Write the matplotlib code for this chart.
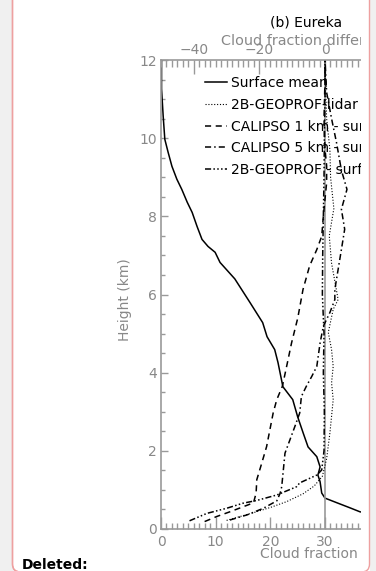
import matplotlib
matplotlib.use("Agg")
import matplotlib.pyplot as plt
from matplotlib.patches import FancyBboxPatch, Rectangle
from matplotlib.ticker import MultipleLocator

# surface mean cloud fraction profile (bottom axis, %)
mean_height = [12.0, 11.26, 10.56, 9.97, 9.64, 9.28, 8.95, 8.69, 8.36, 8.10, 7.74, 7.41,
               7.23, 7.08, 6.82, 6.40, 5.79, 5.28, 4.92, 4.59, 4.26, 3.64, 3.31, 2.87,
               2.46, 2.10, 1.85, 1.59, 1.38, 1.21, 0.92, 0.79, 0.67, 0.54, 0.44, 0.35, 0.25]
mean_frac = [0.1, 0.1, 0.4, 0.7, 1.3, 2.0, 2.9, 3.8, 4.8, 5.7, 6.6, 7.5,
             8.6, 9.9, 10.8, 13.5, 16.3, 18.6, 19.4, 20.8, 21.4, 22.3, 24.1, 25.0,
             26.0, 26.9, 28.5, 29.1, 28.7, 29.1, 29.4, 30.0, 32.2, 34.6, 36.4, 40.0, 45.0]

# differences from the surface (top axis, %)
lidar_height = [0.22, 0.30, 0.42, 0.55, 0.70, 0.90, 1.10, 1.35, 1.80, 2.46, 3.31, 3.74, 4.16,
                4.59, 5.03, 5.62, 5.87, 6.2, 6.8, 7.5, 8.2, 9.0, 9.7, 10.5, 11.2, 12.0]
lidar_diff = [-30.0, -26.7, -21.7, -16.7, -11.7, -6.7, -3.3, -0.8, 0.5, 1.5, 2.5, 2.0, 2.5,
              2.0, 1.0, 2.5, 4.0, 3.3, 2.0, 1.3, 2.7, 1.7, 1.5, 0.5, 0.2, 0.0]

cal1_height = [0.19, 0.32, 0.44, 0.67, 0.92, 1.26, 1.68, 2.11, 2.54, 2.97, 3.31, 3.65, 4.16,
               4.76, 5.40, 6.13, 6.73, 7.15, 7.49, 8.01, 8.44, 8.86, 9.29, 9.72, 10.5, 11.5, 12.0]
cal1_diff = [-36.7, -33.0, -29.0, -21.8, -21.0, -20.8, -19.3, -17.8, -16.8, -15.8, -14.7, -13.0, -11.7,
             -10.2, -8.3, -6.7, -4.7, -2.5, -1.0, -0.5, 0.0, 0.5, 0.5, 0.0, -0.3, 0.0, 0.0]

cal5_height = [0.23, 0.36, 0.53, 0.72, 0.91, 1.08, 1.51, 1.94, 2.28, 2.62, 2.97, 3.39, 3.65,
               3.91, 4.16, 4.76, 5.19, 5.54, 5.87, 6.13, 6.64, 7.15, 7.67, 8.18, 8.69, 9.18,
               9.89, 10.5, 11.17, 12.0]
cal5_diff = [-29.0, -23.8, -18.8, -14.7, -13.7, -13.2, -12.7, -12.2, -10.7, -9.2, -7.7, -7.2, -5.7,
             -4.0, -2.5, -1.5, -0.5, 1.5, 3.0, 3.0, 4.0, 5.0, 6.0, 5.0, 6.7, 5.0,
             3.5, 2.0, 0.5, 0.0]

geo_height = [0.21, 0.40, 0.53, 0.66, 0.73, 0.87, 1.08, 1.18, 1.38, 1.51, 2.0, 3.0, 4.0,
              5.0, 6.0, 7.0, 8.0, 9.0, 10.0, 11.0, 12.0]
geo_diff = [-41.3, -36.0, -30.0, -25.0, -20.8, -14.7, -8.7, -7.7, -2.5, -1.0, -0.3, -0.2, -0.5,
            -0.3, -0.8, -0.7, -0.5, -0.3, -0.2, 0.0, 0.0]

labels = ["Surface mean", "2B-GEOPROF-lidar - surface", "CALIPSO 1 km - surface",
          "CALIPSO 5 km - surface", "2B-GEOPROF - surface"]

W, H = 376, 571
GREY = "#999999"
TXT = "#888888"

fig = plt.figure(figsize=(W / 100, H / 100), dpi=100)
fig.patch.set_facecolor("#f0f0f0")

# white page with pink change-bar frame
frame = FancyBboxPatch((0.125, -0.01), 3.57, 6.0, boxstyle="round,pad=0,rounding_size=0.08",
                       transform=fig.dpi_scale_trans, facecolor="white",
                       edgecolor="#eea0a0", lw=1.0, zorder=-1)
fig.add_artist(frame)

ax = fig.add_axes([161 / W, 1 - 529 / H, 328 / W, 469 / H])
ax.set_facecolor("none")
ax.set_xlim(0, 60)
ax.set_ylim(0, 12)
ax2 = ax.twiny()
ax2.set_facecolor("none")
ax2.set_xlim(-50, 50)

l0, = ax.plot(mean_frac, mean_height, color="black", lw=1.1)
ax2.axvline(0, color=GREY, lw=1.2)
l1, = ax2.plot(lidar_diff, lidar_height, color="black", lw=0.8, ls=(0, (1, 1.6)))
l2, = ax2.plot(cal1_diff, cal1_height, color="black", lw=1.1, ls=(0, (4, 3)))
l3, = ax2.plot(cal5_diff, cal5_height, color="black", lw=1.1, ls=(0, (4, 2, 1, 2)))
l4, = ax2.plot(geo_diff, geo_height, color="black", lw=1.1,
               ls=(0, (4, 1.5, 1, 1.5, 1, 1.5, 1, 1.5)))

for s in ax.spines.values():
    s.set_color(GREY)
    s.set_linewidth(1.2)
ax.spines["top"].set_visible(False)
for k, s in ax2.spines.items():
    s.set_visible(k == "top")
    s.set_color(GREY)
    s.set_linewidth(1.2)

ax.xaxis.set_ticks_position("bottom")
ax.yaxis.set_ticks_position("left")
ax.xaxis.set_major_locator(MultipleLocator(10))
ax.xaxis.set_minor_locator(MultipleLocator(1))
ax.yaxis.set_major_locator(MultipleLocator(2))
ax.yaxis.set_minor_locator(MultipleLocator(0.5))
ax.tick_params(which="both", direction="in", color=GREY, labelcolor=TXT, labelsize=10, width=1)
ax.tick_params(axis="x", which="major", length=9, pad=4)
ax.tick_params(axis="x", which="minor", length=4)
ax.tick_params(axis="y", which="major", length=5, pad=3)
ax.tick_params(axis="y", which="minor", length=3)

ax2.xaxis.set_major_locator(MultipleLocator(20))
ax2.xaxis.set_minor_locator(MultipleLocator(5 / 3))
ax2.tick_params(which="both", direction="in", color=GREY, labelcolor=TXT, labelsize=10, width=1)
ax2.tick_params(which="major", length=10, pad=2)
ax2.tick_params(which="minor", length=5)

ax2.legend([l0, l1, l2, l3, l4], labels, loc="upper left",
           bbox_to_anchor=(205 / W, 1 - 76 / H), bbox_transform=fig.transFigure,
           frameon=False, fontsize=10, handlelength=1.6, handletextpad=0.25,
           labelspacing=0.56, borderpad=0, borderaxespad=0)

fig.text(270 / W, 1 - 23 / H, "(b) Eureka", fontsize=10, color="black", va="center")
fig.text(221 / W, 1 - 41 / H, "Cloud fraction difference", fontsize=10.4, color=TXT, va="center")
fig.text(260 / W, 1 - 554 / H, "Cloud fraction", fontsize=10, color=TXT, va="center")
fig.text(125 / W, 1 - 300 / H, "Height (km)", fontsize=10, color=TXT, va="center",
         ha="center", rotation=90)
fig.text(22 / W, 1 - 569 / H, "Deleted:", fontsize=10, fontweight="bold", color="black",
         va="baseline")

# the figure is cut off at the right edge of the page
fig.add_artist(Rectangle((361 / W, 0), 8.5 / W, 1, transform=fig.transFigure,
                         facecolor="white", edgecolor="none", zorder=5))
fig.add_artist(Rectangle((370 / W, 0), 6 / W, 1, transform=fig.transFigure,
                         facecolor="#f0f0f0", edgecolor="none", zorder=5))
frame_edge = FancyBboxPatch((0.125, -0.01), 3.57, 6.0, boxstyle="round,pad=0,rounding_size=0.08",
                            transform=fig.dpi_scale_trans, facecolor="none",
                            edgecolor="#eea0a0", lw=1.0, zorder=6)
fig.add_artist(frame_edge)

fig.savefig("out.png", dpi=100, facecolor=fig.get_facecolor())
